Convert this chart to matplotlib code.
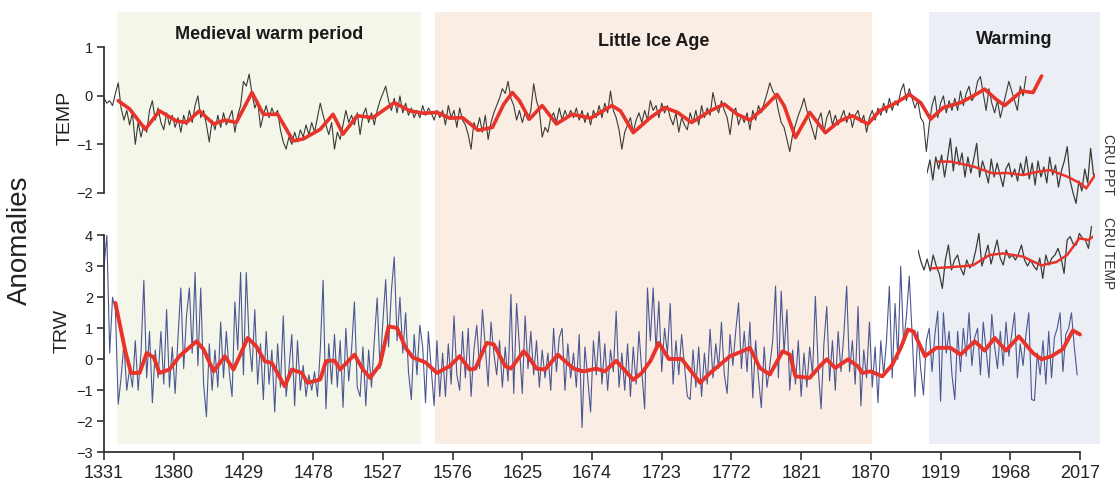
import matplotlib.pyplot as plt
from matplotlib.ticker import FixedLocator

plt.rcParams['font.family'] = ['Liberation Sans', 'DejaVu Sans']

W, H = 1120, 483

# reconstructed TEMP, one value every 2 years from 1331
TEMP_START, TEMP_STEP = 1331, 2
TEMP = [
    -0.05, -0.15, -0.1, -0.2, 0.05, 0.27, -0.25, -0.5, -0.3, -0.6, -0.35, -1.0, -0.55, -0.85, -0.6,        # 1331
    -0.75, -0.3, -0.1, -0.5, -0.25, -0.55, -0.7, -0.35, -0.6, -0.4, -0.65, -0.45, -0.75, -0.4, -0.6,       # 1361
    -0.3, -0.55, -0.2, 0.0, -0.45, -0.3, -0.6, -0.95, -0.5, -0.7, -0.4, -0.65, -0.35, -0.6, -0.45,         # 1391
    -0.3, -0.75, -0.4, -0.2, 0.3, 0.2, 0.45, 0.05, -0.25, -0.1, -0.65, -0.4, -0.2, -0.45, -0.25,           # 1421
    -0.4, -0.3, -0.7, -0.95, -1.1, -0.85, -1.0, -0.75, -0.95, -0.7, -0.85, -0.6, -0.8, -0.55, -0.75,       # 1451
    -0.45, -0.15, -0.4, -0.6, -0.8, -0.55, -1.1, -0.75, -0.9, -0.6, -0.3, -0.55, -0.4, -0.6, -0.35,        # 1481
    -0.8, -0.4, -0.25, -0.55, -0.35, -0.6, -0.3, -0.1, 0.05, 0.2, -0.1, -0.3, -0.05, -0.35, 0.0,           # 1511
    -0.35, -0.15, -0.4, -0.25, -0.45, -0.3, -0.45, -0.2, -0.4, -0.25, -0.35, -0.5, -0.3, -0.45, -0.3,      # 1541
    -0.6, -0.2, -0.45, -0.3, -0.65, -0.25, -0.5, -0.6, -0.8, -1.1, -0.55, -0.7, -0.45, -0.75, -0.4,        # 1571
    -0.9, -0.55, -0.35, -0.2, -0.05, 0.15, 0.05, 0.3, -0.05, -0.2, -0.5, -0.3, -0.55, -0.35, -0.5,         # 1601
    -0.3, 0.25, -0.1, -0.3, -0.85, -0.65, -0.75, -0.45, -0.35, -0.55, -0.25, -0.5, -0.3, -0.45, -0.3,      # 1631
    -0.45, -0.25, -0.5, -0.3, -0.55, -0.35, -0.6, -0.3, -0.45, -0.2, -0.45, -0.15, -0.35, 0.1, -0.3,       # 1661
    -0.45, -0.7, -1.1, -0.75, -0.6, -0.45, -0.75, -0.5, -0.35, -0.55, -0.3, -0.5, -0.1, -0.3, -0.2,        # 1691
    -0.45, -0.15, -0.35, -0.2, -0.45, -0.6, -0.35, -0.75, -0.45, -0.6, -0.7, -0.35, -0.55, -0.3, -0.6,     # 1721
    -0.2, -0.45, -0.25, -0.4, 0.07, -0.2, -0.35, -0.1, -0.3, -0.45, -0.8, -0.35, -0.25, -0.6, -0.4,        # 1751
    -0.55, -0.35, -0.7, -0.3, -0.5, -0.2, -0.35, -0.15, 0.05, 0.27, 0.1, 0.0, -0.3, -0.55, -0.65,          # 1781
    -0.9, -1.15, -0.8, -0.6, -0.4, -0.25, -0.05, -0.3, -0.5, -0.7, -0.9, -0.5, -0.35, -0.75, -0.45,        # 1811
    -0.3, -0.6, -0.4, -0.6, -0.45, -0.3, -0.55, -0.35, -0.65, -0.4, -0.3, -0.55, -0.4, -0.75, -0.45,       # 1841
    -0.3, -0.5, -0.25, -0.4, -0.15, -0.35, -0.05, -0.3, -0.1, -0.2, 0.1, 0.25, -0.1, 0.15, -0.05,          # 1871
    -0.25, -0.1, -0.45, -0.55, -1.15, -0.6, -0.2, 0.0, -0.45, -0.15, 0.0, -0.35, -0.1, -0.3, -0.05,        # 1901
    -0.3, 0.1, -0.2, 0.05, 0.2, -0.1, 0.0, 0.3, 0.4, 0.05, -0.3, 0.15, -0.15, -0.35, -0.1,                 # 1931
    -0.45, -0.2, 0.05, 0.3, 0.1, -0.1, -0.3, 0.2, 0.0, 0.4,                                                # 1961
]
TEMP_SMOOTH_YEARS = [
    1341, 1349, 1360, 1370, 1382, 1389, 1398, 1408, 1416, 1424,
    1435, 1443, 1453, 1464, 1471, 1483, 1492, 1499, 1509, 1520,
    1535, 1546, 1556, 1565, 1574, 1583, 1594, 1604, 1612, 1618,
    1623, 1630, 1639, 1649, 1660, 1673, 1688, 1694, 1703, 1715,
    1725, 1734, 1744, 1757, 1767, 1776, 1785, 1794, 1804, 1809,
    1817, 1827, 1838, 1848, 1857, 1868, 1876, 1888, 1897, 1905,
    1912, 1921, 1933, 1942, 1950, 1958, 1964, 1972, 1976, 1984,
    1990,
]
TEMP_SMOOTH = [
    -0.1, -0.27, -0.69, -0.31, -0.52, -0.55, -0.31, -0.58, -0.5, -0.55,
    0.07, -0.38, -0.38, -0.93, -0.89, -0.69, -0.38, -0.79, -0.41, -0.45,
    -0.14, -0.31, -0.36, -0.34, -0.46, -0.45, -0.71, -0.65, -0.17, 0.07,
    -0.1, -0.48, -0.2, -0.58, -0.38, -0.46, -0.2, -0.31, -0.76, -0.45,
    -0.24, -0.34, -0.55, -0.31, -0.17, -0.38, -0.5, -0.27, 0.03, -0.2,
    -0.86, -0.34, -0.76, -0.52, -0.41, -0.58, -0.31, -0.14, 0.03, -0.14,
    -0.48, -0.24, -0.14, 0.0, 0.14, -0.07, -0.2, 0.0, 0.1, 0.07,
    0.41,
]

# tree-ring width index, every 2 years from 1331
TRW_START, TRW_STEP = 1331, 2
TRW = [
    3.0, 4.0, 0.2, 2.0, 1.6, -1.45, -0.6, 0.5, -1.0, -0.3, -0.9, 0.6, -1.0, 0.2, 2.55,        # 1331
    -0.6, 0.9, -1.4, 0.3, -0.6, 0.9, -0.8, 1.6, -0.9, 0.4, -1.1, 0.7, 2.3, -0.3, 1.4,         # 1361
    2.3, 0.2, 2.8, -0.2, 2.3, -0.8, -1.85, 0.5, -1.0, 0.3, -0.9, 1.2, -0.6, 0.9, -0.4,        # 1391
    -1.2, 1.85, 0.3, 2.8, -0.5, 2.8, 0.6, -0.4, 1.6, -0.8, 0.5, -1.3, 0.9, -0.8, 0.3,         # 1421
    -1.7, 0.5, -0.9, 1.4, -1.2, -0.3, 0.8, -1.5, 0.6, -1.0, -0.2, -1.2, -0.5, -1.0, -0.4,     # 1451
    -1.2, 0.3, 2.55, -1.6, 0.5, -0.8, 0.8, -0.9, 0.6, -1.55, 1.0, -0.7, 0.3, 1.85, -0.9,      # 1481
    -1.2, 0.4, -1.5, 0.3, -0.9, 0.6, 1.98, -0.3, 1.2, 2.57, 0.4, 2.2, 3.3, 0.6, 2.0,          # 1511
    0.2, 1.5, -0.4, -1.3, 0.8, -0.5, 1.1, 0.4, -1.4, 0.9, -0.3, -1.5, 0.6, -1.2, 0.2,         # 1541
    -1.2, 0.5, -0.8, 1.4, -0.5, -1.0, 0.9, -0.6, 1.0, -1.2, 0.3, 1.1, -0.3, 1.6, 0.4,         # 1571
    -0.87, 1.2, 0.2, -0.5, 0.6, -0.9, 0.4, -0.7, 2.1, -1.1, 1.8, 0.4, -1.1, 1.4, -0.3,        # 1601
    0.9, -0.5, 0.6, -0.9, 0.3, -0.6, 0.2, -1.0, 1.0, -0.4, 0.7, 1.0, -1.0, 0.5, -0.6,         # 1631
    0.2, -0.9, 0.8, -2.2, 0.4, -0.6, -1.7, 0.6, -0.5, 0.9, -0.8, 0.5, -1.0, 0.3, -0.4,        # 1661
    1.55, -0.9, 0.2, -1.0, 0.5, -1.2, 0.4, -0.8, 0.9, -0.4, -1.6, 2.3, 0.6, 2.3, 0.3,         # 1691
    1.87, -0.4, 1.0, 0.2, 1.8, -0.8, 0.6, -0.5, 0.8, -0.2, -1.2, -1.3, 0.3, -0.9, 0.4,        # 1721
    -1.2, 0.2, -0.8, 0.97, -0.6, 0.5, -0.3, 1.2, -0.5, -1.1, 0.8, -0.2, 0.9, 1.82, -0.3,      # 1751
    0.9, -0.4, 1.2, -1.24, 0.6, -0.6, -1.56, 0.4, -0.9, -0.2, 0.6, 2.36, -0.6, 2.2, 0.2,      # 1781
    1.6, -1.0, 0.3, -0.8, 0.6, -1.2, 0.2, -0.9, 0.4, -0.5, 2.03, -0.3, -1.6, 0.5, 1.7,        # 1811
    -0.7, 0.6, -1.0, 0.9, -0.4, 0.8, 2.36, -0.4, 0.6, -0.8, 1.7, -1.5, 0.3, -0.6, 1.2,        # 1841
    -0.9, 0.4, -1.4, 0.6, -0.5, 0.6, 2.36, -0.6, 1.8, 0.0, 3.0, 0.5, 1.4, 2.68, 0.8,          # 1871
    -1.2, 0.9, -0.3, -1.15, 0.6, 1.0, -0.4, 0.8, 1.55, -1.35, 1.5, 0.2, 0.9, -0.5, -1.3,      # 1901
    0.9, -0.4, 1.0, 0.1, 1.5, -0.2, 0.7, 1.0, -0.5, 1.2, 0.3, -0.6, 1.45, 0.4, -0.3,          # 1931
    0.9, -0.2, 1.2, 0.1, 0.8, 1.5, -0.6, 0.5, -0.2, 0.8, 1.5, -1.3, -1.33, 0.2, -0.5,         # 1961
    0.6, -0.8, 0.9, -0.6, 0.7, 1.0, 1.5, -0.4, 0.8, 1.0, 1.5, 0.4, -0.5,                      # 1991
]
TRW_SMOOTH_YEARS = [
    1339, 1346, 1350, 1356, 1361, 1366, 1370, 1377, 1384, 1396,
    1401, 1408, 1416, 1422, 1427, 1432, 1438, 1444, 1449, 1458,
    1463, 1470, 1474, 1483, 1487, 1493, 1497, 1507, 1513, 1518,
    1525, 1531, 1537, 1543, 1548, 1557, 1565, 1574, 1581, 1588,
    1592, 1600, 1605, 1613, 1617, 1626, 1629, 1635, 1641, 1650,
    1661, 1668, 1677, 1683, 1691, 1703, 1709, 1715, 1721, 1728,
    1737, 1750, 1757, 1764, 1771, 1778, 1785, 1792, 1799, 1808,
    1813, 1817, 1827, 1834, 1839, 1845, 1854, 1861, 1864, 1870,
    1878, 1885, 1891, 1896, 1900, 1908, 1916, 1926, 1933, 1943,
    1950, 1957, 1965, 1974, 1984, 1990, 1997, 2005, 2012, 2017,
]
TRW_SMOOTH = [
    1.82, 0.26, -0.44, -0.44, 0.2, 0.06, -0.44, -0.33, 0.1, 0.58,
    0.32, -0.39, 0.1, -0.33, 0.17, 0.69, 0.42, -0.06, -0.12, -0.87,
    -0.33, -0.44, -0.76, -0.65, -0.06, -0.04, -0.33, 0.15, -0.33, -0.6,
    -0.17, 1.06, 1.01, 0.37, 0.06, -0.1, -0.44, -0.22, 0.1, -0.33,
    -0.3, 0.53, 0.48, -0.22, -0.3, 0.26, 0.1, -0.3, -0.33, 0.15,
    -0.3, -0.39, -0.3, -0.39, -0.05, -0.66, -0.44, -0.06, 0.53, 0.01,
    0.01, -0.76, -0.44, -0.17, 0.1, 0.23, 0.37, -0.28, -0.49, 0.26,
    0.15, -0.55, -0.6, -0.23, 0.0, -0.28, 0.0, -0.23, -0.44, -0.39,
    -0.55, -0.18, 0.37, 0.96, 0.9, 0.1, 0.37, 0.37, 0.15, 0.58,
    0.28, 0.69, 0.28, 0.74, 0.2, 0.0, 0.1, 0.33, 0.93, 0.8,
]

# CRU instrumental series, every 2 years from 1901
CRU_START, CRU_STEP = 1901, 2
CRU_PPT = [
    -0.4, 0.25, -0.75, 0.4, -0.2, 0.5, -0.6, 0.3, 1.33, -0.3,
    0.9, 0.0, 0.6, -0.6, 0.4, -0.4, 0.3, 1.08, -0.6, 0.2,
    -0.3, -0.9, 0.3, -0.6, 0.1, -0.5, -1.08, -0.2, 0.1, -0.6,
    -0.2, -0.8, 0.1, -0.5, 0.42, -0.7, 0.1, -1.0, 0.2, -0.6,
    -0.1, -0.9, 0.4, -0.5, 0.0, -1.1, -0.3, 0.2, 0.92, -0.8,
    -1.4, -1.92, -0.8, -1.3, -0.2, -0.9, 0.83, -0.5,
]
CRU_PPT_SMOOTH_YEARS = [1909, 1917, 1925, 1933, 1946, 1956, 1967, 1976, 1985, 1997, 2006, 2010, 2016]
CRU_PPT_SMOOTH = [0.17, 0.17, 0.05, -0.08, -0.42, -0.4, -0.5, -0.35, -0.25, -0.58, -0.92, -1.17, -0.5]

CRU_TEMP = [
    0.6, 0.0, -0.4, 0.15, -0.45, 0.35, -0.2, -0.6, -1.32, 0.1,
    0.85, -0.4, 0.1, 0.35, -0.3, -0.65, 0.1, -0.3, -0.05, 0.6,
    1.43, -0.2, 0.3, 0.85, -0.1, 0.5, 1.1, 0.2, -0.15, 0.6,
    0.2, 0.35, 0.1, 0.4, 0.85, 0.1, -0.2, 0.1, -0.2, -0.4,
    0.2, -0.82, 0.35, -0.15, 0.2, 0.35, 0.68, 0.2, -0.57, 1.1,
    1.27, 0.9, 0.85, 1.43, 1.2, 1.1, 0.68, 1.77,
]
CRU_TEMP_SMOOTH_YEARS = [1910, 1924, 1937, 1948, 1957, 1970, 1982, 1992, 1999, 2007, 2013, 2016]
CRU_TEMP_SMOOTH = [-0.32, -0.25, -0.17, 0.35, 0.43, 0.27, -0.17, 0.0, 0.35, 1.18, 1.1, 1.27]

PERIOD_NAMES = ['Medieval warm period', 'Little Ice Age', 'Warming']
PERIOD_BOUNDS = [(1340, 1554), (1564, 1871), (1911, 2031)]
XTICKS = list(range(1331, 2018, 49))

RED = '#e8332b'
SPAN_COLORS = ['#f4f6ea', '#faede4', '#ebeff5']
AXIS_COLOR = '#333333'


def years(start, step, values):
    return [start + step * i for i in range(len(values))]


def box(x0, y0, x1, y1):
    # pixel box (top-left origin) -> figure fraction rect
    return [x0 / W, 1 - y1 / H, (x1 - x0) / W, (y1 - y0) / H]


def main():
    fig = plt.figure(figsize=(W / 100, H / 100), dpi=100)
    xlim = (1331, 2032)
    right = 104 + (xlim[1] - xlim[0]) * 976 / 686

    # shaded periods
    ax_bg = fig.add_axes(box(104, 12, right, 444))
    ax_bg.set_xlim(*xlim)
    ax_bg.axis('off')
    tr = ax_bg.get_xaxis_transform()
    title_y = [0.948, 0.932, 0.936]
    for name, (a, b), c, ty in zip(PERIOD_NAMES, PERIOD_BOUNDS, SPAN_COLORS, title_y):
        ax_bg.axvspan(a, b, color=c, lw=0)
        ax_bg.text((a + b) / 2, ty, name, transform=tr, ha='center', va='center',
                   fontsize=13, fontweight='bold', color='#1a1a1a')

    ax_t = fig.add_axes(box(104, 47.5, right, 192.7))
    ax_b = fig.add_axes(box(104, 235.3, right, 452.3))
    for ax in (ax_t, ax_b):
        ax.set_facecolor('none')
        ax.set_xlim(*xlim)
        for s in ('top', 'right'):
            ax.spines[s].set_visible(False)
        ax.spines['left'].set_color(AXIS_COLOR)
        ax.spines['left'].set_linewidth(1.3)
        ax.tick_params(axis='y', direction='out', length=5, width=1.2,
                       labelsize=10.5, colors=AXIS_COLOR, labelcolor='#222222', pad=3)

    # TEMP panel
    ax_t.plot(years(TEMP_START, TEMP_STEP, TEMP), TEMP, color='#3b3b36', lw=0.8)
    ax_t.plot(TEMP_SMOOTH_YEARS, TEMP_SMOOTH, color=RED, lw=2.6, solid_capstyle='round')
    ax_t.set_ylim(-2, 1)
    ax_t.yaxis.set_major_locator(FixedLocator([1, 0, -1, -2]))
    ax_t.spines['bottom'].set_visible(False)
    ax_t.set_xticks([])

    # TRW panel
    ax_b.plot(years(TRW_START, TRW_STEP, TRW), TRW, color='#4b5792', lw=0.8)
    ax_b.plot(TRW_SMOOTH_YEARS, TRW_SMOOTH, color=RED, lw=2.8, solid_capstyle='round')
    ax_b.set_ylim(-3, 4)
    ax_b.yaxis.set_major_locator(FixedLocator(list(range(-3, 5))))
    ax_b.spines['bottom'].set_bounds(1331, 2017)
    ax_b.spines['bottom'].set_color(AXIS_COLOR)
    ax_b.spines['bottom'].set_linewidth(1.3)
    ax_b.set_xticks(XTICKS)
    ax_b.tick_params(axis='x', direction='out', length=6, width=1.2, labelsize=13,
                     colors=AXIS_COLOR, labelcolor='#222222', pad=3)

    # CRU insets
    ax_p = fig.add_axes(box(927, 130, 1095, 210))
    ax_p.plot(years(CRU_START, CRU_STEP, CRU_PPT), CRU_PPT, color='#3b3b36', lw=0.9)
    ax_p.plot(CRU_PPT_SMOOTH_YEARS, CRU_PPT_SMOOTH, color=RED, lw=1.8)
    ax_p.set_ylim(-2.25, 1.75)

    ax_c = fig.add_axes(box(918, 225, 1093, 300))
    ax_c.plot(years(CRU_START, CRU_STEP, CRU_TEMP), CRU_TEMP, color='#3b3b36', lw=0.9)
    ax_c.plot(CRU_TEMP_SMOOTH_YEARS, CRU_TEMP_SMOOTH, color=RED, lw=1.8)
    ax_c.set_ylim(-1.9, 1.85)
    for ax in (ax_p, ax_c):
        ax.set_xlim(1901, 2016)
        ax.axis('off')

    fig.text(65 / W, 1 - 117.5 / H, 'TEMP', rotation=90, ha='center', va='center',
             fontsize=14, color='#222222')
    fig.text(62 / W, 1 - 331 / H, 'TRW', rotation=90, ha='center', va='center',
             fontsize=14, color='#222222')
    fig.text(20 / W, 1 - 240 / H, 'Anomalies', rotation=90, ha='center', va='center',
             fontsize=20, color='#222222')
    fig.text(1108 / W, 1 - 165 / H, 'CRU PPT', rotation=270, ha='center', va='center',
             fontsize=10, color='#333333')
    fig.text(1108 / W, 1 - 253 / H, 'CRU TEMP', rotation=270, ha='center', va='center',
             fontsize=10, color='#333333')

    fig.savefig('out.png', dpi=100)


if __name__ == '__main__':
    main()
